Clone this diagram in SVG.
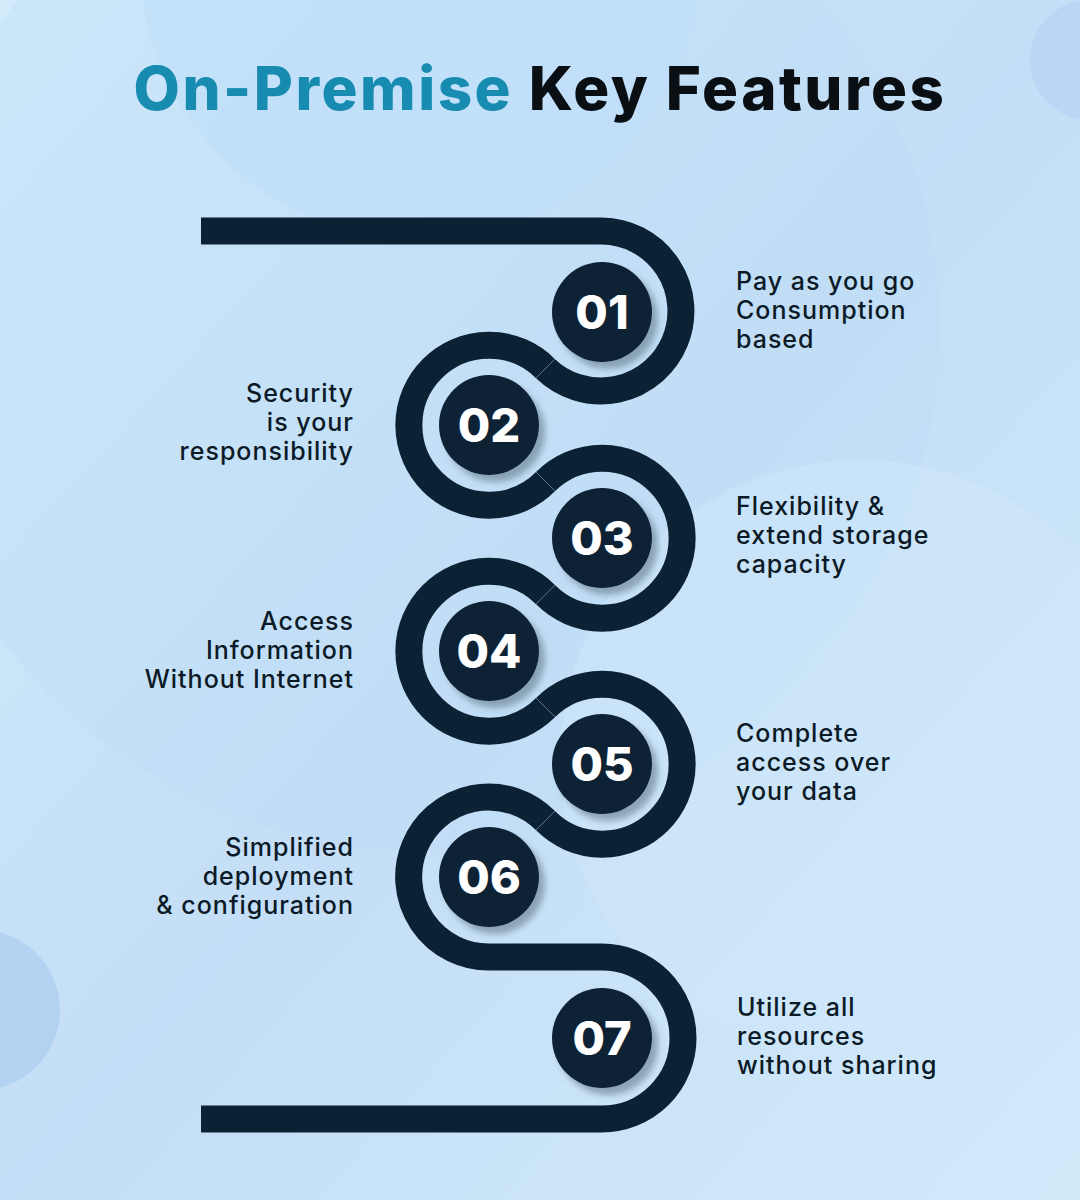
<svg xmlns="http://www.w3.org/2000/svg" width="1080" height="1200" viewBox="0 0 1080 1200">
<defs>
<linearGradient id="bg" x1="0" y1="0" x2="1" y2="1">
<stop offset="0" stop-color="#d3ecfb"/><stop offset="0.5" stop-color="#c3def6"/><stop offset="1" stop-color="#d2eafa"/>
</linearGradient>
<filter id="sh" x="-30%" y="-30%" width="170%" height="170%"><feDropShadow dx="6" dy="7" stdDeviation="3" flood-color="#5a6f80" flood-opacity="0.55"/></filter>
<style>
.snake{fill:none;stroke:#0b2134;stroke-width:27}
.tick{stroke:#5d7486;stroke-width:1}
.dot{fill:#0b2134;filter:url(#sh)}
.num{font-family:Inter,"Liberation Sans",sans-serif;font-weight:800;font-size:47px;fill:#fff;text-anchor:middle}
.lbl{font-family:Inter,"Liberation Sans",sans-serif;font-weight:500;font-size:25px;letter-spacing:1px;fill:#0b1a26}
.r{text-anchor:end}
.title{font-family:Inter,"Liberation Sans",sans-serif;font-weight:800;font-size:60px;letter-spacing:2.5px}
</style>
</defs>
<rect width="1080" height="1200" fill="url(#bg)"/>
<circle cx="420" cy="-40" r="280" fill="#bfe0fb" opacity="0.6"/>
<circle cx="420" cy="330" r="520" fill="#bcdcf5" opacity="0.35"/>
<circle cx="860" cy="760" r="300" fill="#d0e8fa" opacity="0.5"/>
<circle cx="-20" cy="1010" r="80" fill="#a9c9f0" opacity="0.6"/>
<circle cx="1090" cy="60" r="60" fill="#b5d1f5" opacity="0.6"/>
<text x="540" y="110" class="title" text-anchor="middle"><tspan fill="#178bb0">On-Premise</tspan><tspan fill="#0a0f14"> Key Features</tspan></text>
<g id="connectors">
<path class="snake" d="M201,231 L602,231 A80,80 0 1 1 545.4,368.6 A80,80 0 1 0 545.6,481.6 A80,80 0 1 1 545.4,594.6 A80,80 0 1 0 545.6,707.6 A80,80 0 1 1 545.4,820.6 A80,80 0 1 0 489,957 L602,957 A81,81 0 0 1 602,1119 L201,1119"/>
<line class="tick" x1="536" y1="378" x2="555" y2="359"/>
<line class="tick" x1="536" y1="472" x2="555" y2="491"/>
<line class="tick" x1="536" y1="604" x2="555" y2="585"/>
<line class="tick" x1="536" y1="698" x2="555" y2="717"/>
<line class="tick" x1="536" y1="830" x2="555" y2="811"/>
</g>
<g id="n1"><circle class="dot" cx="602" cy="312" r="50"/><text class="num" x="602" y="329">01</text>
<text class="lbl" x="736" y="290">Pay as you go</text><text class="lbl" x="736" y="319">Consumption</text><text class="lbl" x="736" y="348">based</text></g>
<g id="n2"><circle class="dot" cx="489" cy="425" r="50"/><text class="num" x="489" y="442">02</text>
<text class="lbl r" x="354" y="402">Security</text><text class="lbl r" x="354" y="431">is your</text><text class="lbl r" x="354" y="460">responsibility</text></g>
<g id="n3"><circle class="dot" cx="602" cy="538" r="50"/><text class="num" x="602" y="555">03</text>
<text class="lbl" x="736" y="515">Flexibility &amp;</text><text class="lbl" x="736" y="544">extend storage</text><text class="lbl" x="736" y="573">capacity</text></g>
<g id="n4"><circle class="dot" cx="489" cy="651" r="50"/><text class="num" x="489" y="668">04</text>
<text class="lbl r" x="354" y="630">Access</text><text class="lbl r" x="354" y="659">Information</text><text class="lbl r" x="354" y="688">Without Internet</text></g>
<g id="n5"><circle class="dot" cx="602" cy="764" r="50"/><text class="num" x="602" y="781">05</text>
<text class="lbl" x="736" y="742">Complete</text><text class="lbl" x="736" y="771">access over</text><text class="lbl" x="736" y="800">your data</text></g>
<g id="n6"><circle class="dot" cx="489" cy="877" r="50"/><text class="num" x="489" y="894">06</text>
<text class="lbl r" x="354" y="856">Simplified</text><text class="lbl r" x="354" y="885">deployment</text><text class="lbl r" x="354" y="914">&amp; configuration</text></g>
<g id="n7"><circle class="dot" cx="602" cy="1038" r="50"/><text class="num" x="602" y="1055">07</text>
<text class="lbl" x="737" y="1016">Utilize all</text><text class="lbl" x="737" y="1045">resources</text><text class="lbl" x="737" y="1074">without sharing</text></g>
</svg>
